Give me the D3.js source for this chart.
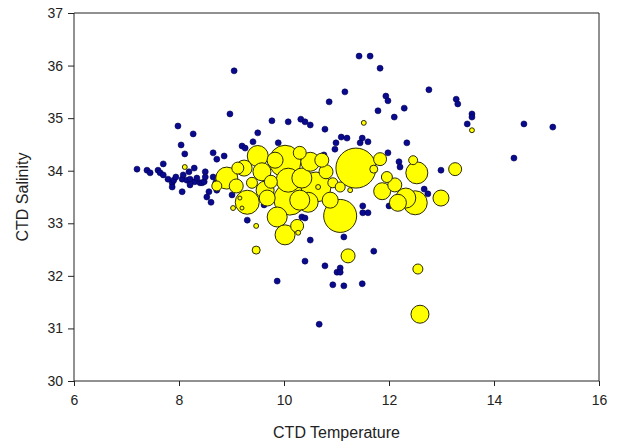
<!DOCTYPE html>
<html>
<head>
<meta charset="utf-8">
<script src="https://cdn.jsdelivr.net/npm/d3@7"></script>
<style>
  body { margin: 0; background: #fff; }
  text { font-family: Arial, "Liberation Sans", sans-serif; fill: #222; }
  .axis path, .axis line { stroke: #222; }
</style>
</head>
<body>
<div id="chart"></div>
<script>
// small blue points (temperature, salinity)
var blueTemp = [7.20,7.39,7.45,7.60,7.64,7.70,7.70,7.79,7.87,7.87,7.90,7.94,7.98,8.04,8.06,8.06,8.11,8.08,8.15,8.21,
    8.19,8.27,8.29,8.30,8.21,8.34,8.40,8.44,8.48,8.50,8.50,8.53,8.57,8.61,8.65,8.72,8.86,8.65,8.70,8.72,
    9.01,9.30,9.20,9.26,9.41,9.50,9.54,9.62,9.89,9.77,10.08,10.32,10.40,10.50,10.34,10.40,10.50,9.05,8.97,10.78,
    10.86,11.16,11.09,11.20,10.99,10.97,11.49,11.45,11.60,11.98,12.34,12.19,12.21,10.76,10.72,12.13,12.00,12.67,12.74,12.99,
    13.49,11.50,11.60,11.50,11.14,11.71,11.43,11.64,11.83,11.94,11.98,11.79,12.29,12.10,12.76,13.28,13.31,13.58,13.58,14.57,
    15.12,14.38,10.40,10.78,11.07,11.01,11.07,9.87,10.93,11.14,11.49,10.67,9.94];
var blueSal = [34.03,34.01,33.96,34.01,33.96,34.13,33.92,33.84,33.77,33.69,33.82,33.88,34.85,34.49,33.84,33.60,34.32,33.92,33.82,33.84,
    33.98,34.70,34.05,33.79,33.73,33.86,33.77,33.77,33.79,33.98,33.88,33.50,33.60,33.40,34.34,34.22,34.28,33.88,33.77,33.63,
    33.54,33.06,34.47,34.43,34.55,34.72,33.67,33.35,34.53,34.95,34.93,34.98,34.93,34.87,33.12,33.10,32.68,35.90,35.08,34.79,
    35.31,35.50,34.64,34.62,34.53,34.41,34.62,34.53,34.55,34.34,34.53,34.17,34.07,34.30,34.20,33.69,33.33,33.65,33.56,34.01,
    34.89,33.33,33.20,33.20,32.74,32.47,36.18,36.18,35.95,35.42,35.33,35.14,35.19,35.02,35.54,35.36,35.27,35.08,35.02,34.89,
    34.83,34.24,32.28,32.19,32.15,32.07,32.07,31.90,31.83,31.81,31.85,31.08,33.88];

// yellow bubbles (temperature, salinity, bubble size)
var bubbleTemp = [8.91,8.72,9.30,9.50,9.24,9.39,9.12,9.58,9.75,10.02,10.08,10.11,9.87,10.02,10.25,10.50,10.30,10.61,10.80,10.93,
    11.07,11.37,11.07,10.46,11.22,11.71,11.83,11.87,11.96,12.17,12.32,12.50,12.53,12.46,12.99,13.26,12.55,12.59,9.47,9.47,
    11.26,10.65,11.52,9.16,9.20,10.34,9.68,8.11,9.03,10.27,13.58,
    9.64,10.30,10.88,9.83,9.09,12.11,10.72];
var bubbleSal = [33.86,33.71,33.40,34.28,34.05,33.77,34.05,33.98,33.79,34.18,33.82,33.46,33.12,32.78,32.95,34.17,34.34,33.69,33.98,33.77,
    33.14,34.05,33.69,33.40,32.38,34.03,34.22,33.61,33.88,33.39,33.48,33.39,33.96,34.20,33.48,34.03,32.13,31.27,32.49,32.95,
    33.63,33.69,34.91,33.48,33.29,33.86,33.48,34.07,33.29,32.82,34.77,
    33.63,33.44,33.44,34.20,33.71,33.73,34.20];
var bubbleSize = [121,25,144,110,64,30,36,81,42,256,144,256,100,100,42,90,42,225,49,25,
    272,400,25,100,49,16,42,72,30,72,100,144,121,20,64,42,25,81,16,6,
    6,6,6,4,4,100,64,6,6,6,6,
    81,100,64,64,49,49,49];

var xTicks = [6, 8, 10, 12, 14, 16];
var yTicks = [30, 31, 32, 33, 34, 35, 36, 37];

var svgWidth = 620;
var svgHeight = 448;
var margin = { top: 13, right: 21, bottom: 67, left: 74 };
var width = svgWidth - margin.left - margin.right;
var height = svgHeight - margin.top - margin.bottom;

var svg = d3.select("#chart")
    .append("svg")
    .attr("width", svgWidth)
    .attr("height", svgHeight);

var chart = svg.append("g")
    .attr("transform", `translate(${margin.left}, ${margin.top})`);

var xScale = d3.scaleLinear().domain([6, 16]).range([0, width]);
var yScale = d3.scaleLinear().domain([30, 37]).range([height, 0]);
var rScale = d3.scaleSqrt().domain([0, 400]).range([0, 20]);

var blue = blueTemp.map((t, i) => ({ t: t, s: blueSal[i] }));
var bubbles = bubbleTemp.map((t, i) => ({ t: t, s: bubbleSal[i], v: bubbleSize[i] }))
    .sort((a, b) => b.v - a.v);

// frame top and right
chart.append("line").attr("x1", 0).attr("x2", width).attr("y1", 0).attr("y2", 0)
    .attr("stroke", "#222");
chart.append("line").attr("x1", width).attr("x2", width).attr("y1", 0).attr("y2", height)
    .attr("stroke", "#222");

// blue points
chart.append("g").selectAll("circle")
    .data(blue)
    .enter()
    .append("circle")
    .attr("cx", d => xScale(d.t))
    .attr("cy", d => yScale(d.s))
    .attr("r", 3)
    .attr("fill", "#0a0a8f")
    .attr("stroke", "#000050")
    .attr("stroke-width", 0.6);

// bubbles
chart.append("g").selectAll("circle")
    .data(bubbles)
    .enter()
    .append("circle")
    .attr("cx", d => xScale(d.t))
    .attr("cy", d => yScale(d.s))
    .attr("r", d => rScale(d.v))
    .attr("fill", "#ffff00")
    .attr("stroke", "#2a2a00")
    .attr("stroke-width", 1);

// axes
var bottomAxis = d3.axisBottom(xScale).tickValues(xTicks).tickFormat(d3.format("d"))
    .tickSize(5).tickPadding(9);
var leftAxis = d3.axisLeft(yScale).tickValues(yTicks).tickFormat(d3.format("d"))
    .tickSize(6).tickPadding(5);

chart.append("g")
    .attr("class", "axis")
    .attr("transform", `translate(0, ${height})`)
    .call(bottomAxis)
    .call(g => g.selectAll("text").attr("font-size", 14).attr("fill", "#333"))
    .call(g => g.select(".domain").attr("d", `M0,0H${width}`));

chart.append("g")
    .attr("class", "axis")
    .call(leftAxis)
    .call(g => g.selectAll("text").attr("font-size", 14).attr("fill", "#333"))
    .call(g => g.select(".domain").attr("d", `M0,0V${height}`));

chart.append("text")
    .attr("x", width / 2)
    .attr("y", height + 57)
    .attr("text-anchor", "middle")
    .attr("font-size", 16)
    .text("CTD Temperature");

chart.append("text")
    .attr("transform", "rotate(-90)")
    .attr("x", -height / 2)
    .attr("y", -46)
    .attr("text-anchor", "middle")
    .attr("font-size", 16)
    .text("CTD Salinity");
</script>
</body>
</html>
